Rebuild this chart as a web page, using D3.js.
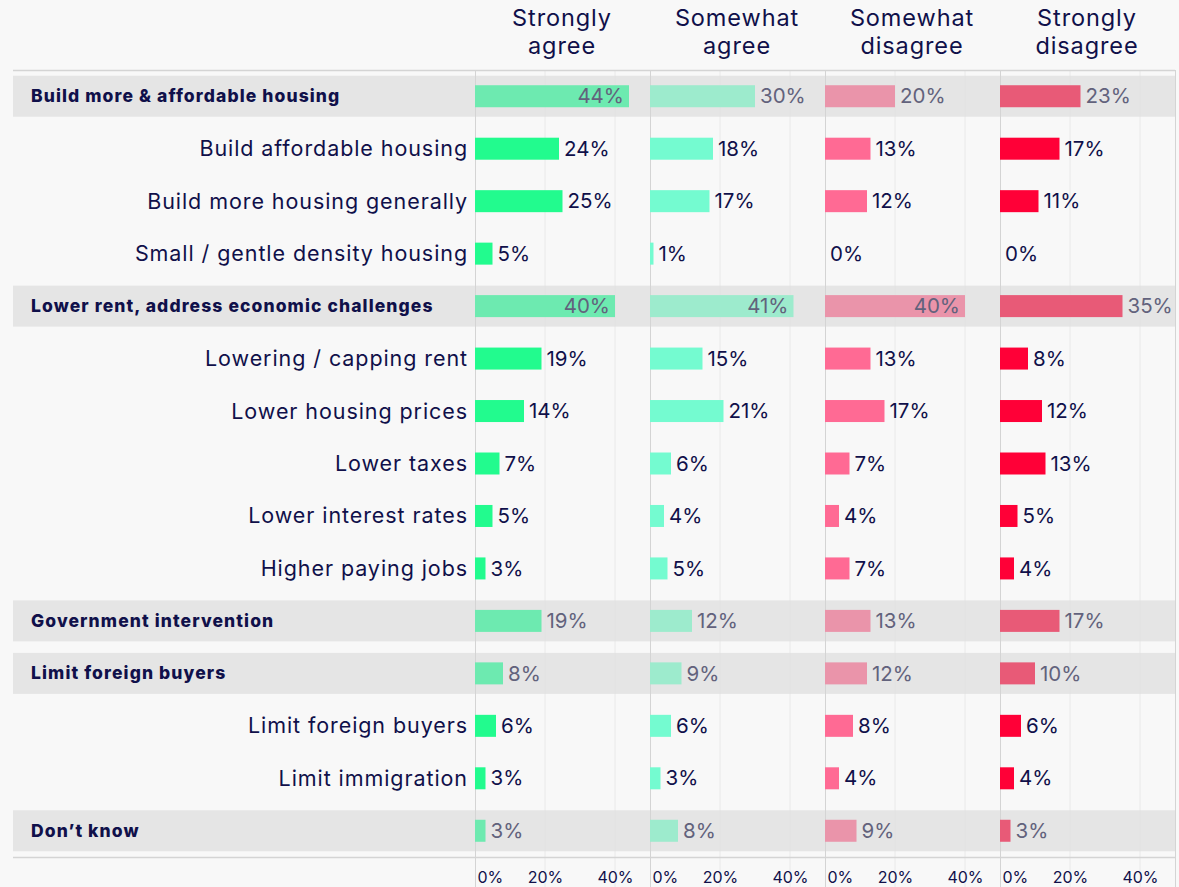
<!DOCTYPE html>
<html>
<head>
<meta charset="utf-8">
<script src="https://cdn.jsdelivr.net/npm/d3@7"></script>
<style>
  html, body { margin: 0; padding: 0; background: #f8f8f8; }
  svg { display: block; font-family: "Inter", "Noto Sans", sans-serif; }
</style>
</head>
<body>
<svg id="chart" width="1179" height="887"></svg>
<script>
// Response columns
const responses = ["Strongly agree", "Somewhat agree", "Somewhat disagree", "Strongly disagree"];
const headerLines = [["Strongly", "agree"], ["Somewhat", "agree"], ["Somewhat", "disagree"], ["Strongly", "disagree"]];

// Row labels (in display order) and whether the row is a summary group
const rowLabels = [
  "Build more & affordable housing",
  "Build affordable housing",
  "Build more housing generally",
  "Small / gentle density housing",
  "Lower rent, address economic challenges",
  "Lowering / capping rent",
  "Lower housing prices",
  "Lower taxes",
  "Lower interest rates",
  "Higher paying jobs",
  "Government intervention",
  "Limit foreign buyers",
  "Limit foreign buyers",
  "Limit immigration",
  "Don\u2019t know"
];
const isGroup = [true, false, false, false, true, false, false, false, false, false, true, true, false, false, true];

// Percent values per response column, same order as rowLabels
const stronglyAgree    = [44, 24, 25, 5, 40, 19, 14, 7, 5, 3, 19, 8, 6, 3, 3];
const somewhatAgree    = [30, 18, 17, 1, 41, 15, 21, 6, 4, 5, 12, 9, 6, 3, 8];
const somewhatDisagree = [20, 13, 12, 0, 40, 13, 17, 7, 4, 7, 13, 12, 8, 4, 9];
const stronglyDisagree = [23, 17, 11, 0, 35, 8, 12, 13, 5, 4, 17, 10, 6, 4, 3];
const seriesValues = [stronglyAgree, somewhatAgree, somewhatDisagree, stronglyDisagree];

const tickValues = [0, 20, 40];

// Colours: bright for sub-items, muted for group rows
const subColors   = ["#22fb8e", "#74fbd0", "#ff6a94", "#ff0037"];
const groupColors = ["#6deab0", "#9debcd", "#ea94aa", "#e85a77"];
const ink = "#10104a";

const svg = d3.select("#chart");

const frameLeft = 13, frameRight = 1175;
const panelStart = 475, panelEnd = 1175;
const frameTop = 70, frameBottom = 857;

const col = d3.scaleBand().domain(d3.range(responses.length)).range([panelStart, panelEnd]).padding(0);
const x = d3.scaleLinear().domain([0, 50]).range([0, col.bandwidth()]);
const y = d3.scaleBand().domain(d3.range(rowLabels.length)).range([frameTop, frameBottom]).paddingInner(0.22).paddingOuter(0.11);
const barH = 22;
const rowCenter = i => y(i) + y.bandwidth() / 2;

// group row bands
svg.append("g").selectAll("rect")
  .data(d3.range(rowLabels.length).filter(i => isGroup[i]))
  .join("rect")
  .attr("x", frameLeft)
  .attr("width", frameRight - frameLeft)
  .attr("y", i => rowCenter(i) - 20.5)
  .attr("height", 41)
  .attr("fill", "#e5e5e5");

// gridlines
const grid = svg.append("g");
responses.forEach((r, c) => {
  [20, 40].forEach(t => {
    grid.append("line")
      .attr("x1", col(c) + x(t)).attr("x2", col(c) + x(t))
      .attr("y1", frameTop).attr("y2", 887)
      .attr("stroke", "#e0e0e0").attr("stroke-opacity", 0.6).attr("stroke-width", 1);
  });
});
// panel separators
d3.range(responses.length + 1).forEach(c => {
  const px = c < responses.length ? col(c) : panelEnd;
  grid.append("line")
    .attr("x1", px + 0.5).attr("x2", px + 0.5)
    .attr("y1", frameTop).attr("y2", 887)
    .attr("stroke", "#d4d4d4").attr("stroke-width", 1);
});
// top and bottom frame lines
[frameTop, frameBottom].forEach(yy => {
  svg.append("line")
    .attr("x1", frameLeft).attr("x2", frameRight)
    .attr("y1", yy + 0.5).attr("y2", yy + 0.5)
    .attr("stroke", "#d4d4d4").attr("stroke-width", 1.5);
});

// header
const header = svg.append("g");
headerLines.forEach((lines, c) => {
  const cx = col(c) + col.bandwidth() / 2;
  const t = header.append("text")
    .attr("text-anchor", "middle")
    .attr("fill", ink)
    .attr("font-size", 23.5)
    .attr("letter-spacing", 0.9);
  lines.forEach((ln, k) => {
    t.append("tspan").attr("x", cx - 0.5).attr("y", 26 + k * 28).text(ln);
  });
});

// row labels
svg.append("g").selectAll("text")
  .data(rowLabels.map((l, i) => ({ l, i })))
  .join("text")
  .attr("x", d => isGroup[d.i] ? 31 : 468)
  .attr("y", d => rowCenter(d.i))
  .attr("dy", "0.35em")
  .attr("text-anchor", d => isGroup[d.i] ? "start" : "end")
  .attr("font-weight", d => isGroup[d.i] ? 800 : 400)
  .attr("font-size", d => isGroup[d.i] ? 17.5 : 21.5)
  .attr("letter-spacing", d => isGroup[d.i] ? 1.1 : 0.92)
  .attr("fill", ink)
  .text(d => d.l);

// bars and value labels
const fmt = v => v + "%";
seriesValues.forEach((vals, c) => {
  const g = svg.append("g").attr("transform", `translate(${col(c)},0)`);
  const data = vals.map((v, i) => ({ v, i }));
  g.selectAll("rect")
    .data(data)
    .join("rect")
    .attr("x", 0)
    .attr("y", d => rowCenter(d.i) - barH / 2)
    .attr("width", d => x(d.v))
    .attr("height", barH)
    .attr("fill", d => isGroup[d.i] ? groupColors[c] : subColors[c]);
  g.selectAll("text")
    .data(data)
    .join("text")
    .attr("x", d => d.v >= 40 ? x(d.v) - 5 : x(d.v) + 5)
    .attr("y", d => rowCenter(d.i))
    .attr("dy", "0.35em")
    .attr("text-anchor", d => d.v >= 40 ? "end" : "start")
    .attr("font-size", 20.5)
    .attr("fill", d => isGroup[d.i] ? "#62627c" : ink)
    .text(d => fmt(d.v));
});

// bottom axes
seriesValues.forEach((vals, c) => {
  const g = svg.append("g").attr("transform", `translate(${col(c)},${frameBottom})`);
  const axis = d3.axisBottom(x).tickValues(tickValues).tickFormat(t => t + "%").tickSize(0).tickPadding(0);
  g.call(axis);
  g.select(".domain").remove();
  g.selectAll("text")
    .attr("y", 20)
    .attr("dy", "0.35em")
    .attr("font-size", 16)
    .attr("font-family", "Inter, sans-serif")
    .attr("fill", ink)
    .attr("text-anchor", t => t === 0 ? "start" : "middle")
    .attr("x", t => t === 0 ? 2 : 0);
});
</script>
</body>
</html>
